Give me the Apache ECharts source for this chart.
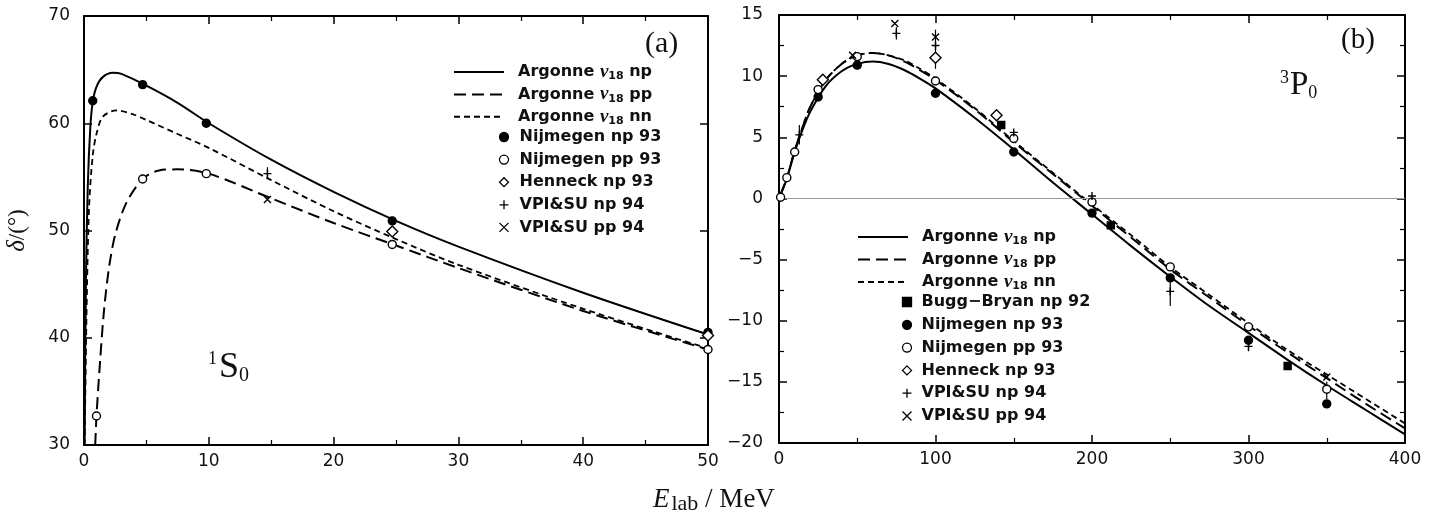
<!DOCTYPE html>
<html lang="en">
<head>
<meta charset="UTF-8">
<title>1S0 / 3P0 phase shifts</title>
<script src="https://cdn.jsdelivr.net/npm/echarts@6/dist/echarts.min.js"></script>
<style>
  html, body { margin: 0; padding: 0; background: #fff; }
  #main { width: 1442px; height: 517px; }
</style>
</head>
<body>
<div id="main"></div>
<script>
// ---- panel (a): 1S0, E in MeV, delta in degrees ----
var a_av18_np = [[0.05, 30], [0.15, 45], [0.3, 54], [0.5, 59.5], [0.7, 62], [1, 63.4], [1.5, 64.3], [2.3, 64.7], [3, 64.6], [5, 63.5], [7.5, 61.9], [10, 60], [15, 56.6], [20, 53.6], [25, 50.9], [30, 48.5], [40, 44.2], [50, 40.3]];
var a_av18_pp = [[0.9, 30], [1, 32.7], [1.3, 38], [1.6, 42.5], [2, 46.5], [2.5, 49.6], [3.4, 52.6], [4.7, 54.8], [6, 55.6], [7.5, 55.7], [10, 55.3], [15, 53], [20, 50.7], [25, 48.6], [30, 46.5], [40, 42.5], [50, 38.9]];
var a_av18_nn = [[0.05, 30], [0.2, 42], [0.4, 52], [0.7, 57], [1, 59], [1.5, 60.6], [2.6, 61.2], [4, 60.8], [5, 60.3], [7.5, 59], [10, 57.7], [15, 54.7], [20, 51.8], [25, 49.2], [30, 46.8], [40, 42.7], [50, 39]];
var a_nijm_np = [[0.7, 62.1], [4.7, 63.6], [9.8, 60], [24.7, 50.9], [50, 40.5]];
var a_nijm_pp = [[1, 32.7], [4.7, 54.8], [9.8, 55.3], [24.7, 48.7], [50, 38.9]];
var a_henneck = [[24.7, 49.9], [50, 40.2]];
var a_vpi_np = [[14.7, 55.3]];
var a_vpi_pp = [[14.7, 52.9]];
var a_errors = [[14.7, 54.8, 55.9]];

// ---- panel (b): 3P0 ----
var b_av18_np = [[0, 0], [5, 1.6], [10, 3.8], [15, 5.6], [20, 7.1], [30, 9.2], [40, 10.4], [50, 11], [60, 11.2], [70, 11], [80, 10.5], [90, 9.8], [100, 9], [125, 6.6], [150, 4], [175, 1.3], [200, -1.3], [225, -3.9], [250, -6.4], [275, -8.8], [300, -11], [325, -13.2], [350, -15.3], [375, -17.3], [400, -19.3]];
var b_av18_pp = [[0, 0], [5, 1.7], [10, 3.9], [15, 5.8], [20, 7.5], [30, 9.7], [40, 11], [50, 11.7], [60, 11.9], [70, 11.7], [80, 11.2], [90, 10.5], [100, 9.7], [125, 7.3], [150, 4.6], [175, 2], [200, -0.6], [225, -3.2], [250, -5.8], [275, -8.1], [300, -10.4], [325, -12.6], [350, -14.7], [375, -16.8], [400, -18.8]];
var b_av18_nn = [[0, 0], [5, 1.7], [10, 3.9], [15, 5.8], [20, 7.5], [30, 9.7], [40, 11], [50, 11.7], [60, 11.9], [70, 11.7], [80, 11.3], [90, 10.6], [100, 9.8], [125, 7.4], [150, 4.7], [175, 2.1], [200, -0.5], [225, -3], [250, -5.6], [275, -7.9], [300, -10.2], [325, -12.4], [350, -14.4], [375, -16.4], [400, -18.4]];
var b_bugg = [[142, 6], [212, -2.2], [325, -13.7]];
var b_nijm_np = [[25, 8.3], [50, 10.9], [100, 8.6], [150, 3.8], [200, -1.2], [250, -6.5], [300, -11.6], [350, -16.8]];
var b_nijm_pp = [[1, 0.1], [5, 1.7], [10, 3.8], [25, 8.9], [50, 11.6], [100, 9.6], [150, 4.9], [200, -0.3], [250, -5.6], [300, -10.5], [350, -15.6]];
var b_henneck = [[28, 9.7], [100, 11.5], [139, 6.8]];
var b_vpi_np = [[13, 5.2], [75, 13.5], [100, 12.5], [150, 5.4], [200, 0.2], [250, -7.6], [300, -12.1]];
var b_vpi_pp = [[47, 11.7], [74, 14.3], [100, 13.2], [350, -14.6]];
var b_errors = [[13, 4.4, 6], [75, 13, 14], [100, 10.6, 13.8], [250, -8.8, -6.3], [300, -12.5, -11.5], [350, -16.4, -15]];

var aXTicks = {min: 0, max: 50, interval: 10};
var aYTicks = {min: 30, max: 70, interval: 10};
var bXTicks = {min: 0, max: 400, interval: 100};
var bYTicks = {min: -20, max: 15, interval: 5};

var N_NP = 'Argonne ν18 np', N_PP = 'Argonne ν18 pp', N_NN = 'Argonne ν18 nn';
var N_BUGG = 'Bugg−Bryan np 92', N_NIJNP = 'Nijmegen np 93', N_NIJPP = 'Nijmegen pp 93';
var N_HEN = 'Henneck np 93', N_VPINP = 'VPI&SU np 94', N_VPIPP = 'VPI&SU pp 94';

var SANS = '"DejaVu Sans", sans-serif';
var SERIF = '"Liberation Serif", "DejaVu Serif", serif';
var PLUS = 'path://M5 0V10M0 5H10';
var CROSS = 'path://M0 0L10 10M10 0L0 10';

var myChart = echarts.init(document.getElementById('main'));

function minus(v) { return String(v).replace('-', '−'); }

function xAx(grid, t, pos, labels) {
    return {
        type: 'value', gridIndex: grid, position: pos, min: t.min, max: t.max, interval: t.interval,
        axisLine: {show: true, onZero: false, lineStyle: {color: '#000', width: 2}},
        axisTick: {show: true, inside: true, length: 8, lineStyle: {color: '#000', width: 1.5}},
        minorTick: {show: true, splitNumber: 2, length: 5, lineStyle: {color: '#000', width: 1.2}},
        axisLabel: {show: labels, margin: 8, color: '#111', fontFamily: SANS, fontSize: 17, formatter: minus},
        splitLine: {show: false}
    };
}

function yAx(grid, t, pos, minor, labels, margin) {
    return {
        type: 'value', gridIndex: grid, position: pos, min: t.min, max: t.max, interval: t.interval,
        axisLine: {show: true, onZero: false, lineStyle: {color: '#000', width: 2}},
        axisTick: {show: true, inside: true, length: 8, lineStyle: {color: '#000', width: 1.5}},
        minorTick: {show: minor, splitNumber: 2, length: 5, lineStyle: {color: '#000', width: 1.2}},
        axisLabel: {show: labels, margin: margin, color: '#111', fontFamily: SANS, fontSize: 17, formatter: minus},
        splitLine: {show: false}
    };
}

function curve(name, data, xi, yi, dash, width) {
    return {
        name: name, type: 'line', data: data, xAxisIndex: xi, yAxisIndex: yi,
        smooth: 0.3, symbol: 'none', clip: true, silent: true,
        lineStyle: {color: '#000', width: width, type: dash}
    };
}

function points(name, data, xi, yi, symbol, size, fill) {
    return {
        name: name, type: 'scatter', data: data, xAxisIndex: xi, yAxisIndex: yi,
        symbol: symbol, symbolSize: size, silent: true, z: 5,
        itemStyle: {color: fill, borderColor: '#000', borderWidth: 1.4, opacity: 1}
    };
}

function errorBars(data, xi, yi) {
    return {
        type: 'custom', data: data, xAxisIndex: xi, yAxisIndex: yi, silent: true, z: 4,
        renderItem: function (params, api) {
            var lo = api.coord([api.value(0), api.value(1)]);
            var hi = api.coord([api.value(0), api.value(2)]);
            return {
                type: 'line',
                shape: {x1: lo[0], y1: lo[1], x2: hi[0], y2: hi[1]},
                style: {stroke: '#000', lineWidth: 1.2}
            };
        }
    };
}

function legendText(name) {
    return name.replace('ν18', '{nu|ν}{sub|18}');
}

var legendRich = {
    nu: {fontFamily: SERIF, fontStyle: 'italic', fontSize: 19, lineHeight: 20},
    sub: {fontFamily: SANS, fontSize: 11, fontWeight: 'bold', lineHeight: 20, verticalAlign: 'bottom', padding: [6, 0, 0, 0]}
};

function lineLegend(data, left, top, textPad, gap) {
    return {
        orient: 'vertical', left: left, top: top, padding: 0, data: data, itemWidth: 50, itemHeight: 12, itemGap: gap,
        selectedMode: false, formatter: legendText,
        itemStyle: {opacity: 0},
        textStyle: {fontFamily: SANS, fontSize: 16, fontWeight: 'bold', color: '#111', lineHeight: 20, padding: [0, 0, 0, textPad], rich: legendRich}
    };
}

function pointLegend(data, left, top, textPad, gap) {
    return {
        orient: 'vertical', left: left, top: top, padding: 0, data: data, itemWidth: 9, itemHeight: 9, itemGap: gap,
        selectedMode: false,
        itemStyle: {borderColor: '#000', borderWidth: 1.3},
        textStyle: {fontFamily: SANS, fontSize: 16, color: '#111', fontWeight: 'bold', lineHeight: 20, padding: [0, 0, 0, textPad]}
    };
}

var option = {
    backgroundColor: '#fff',
    animation: false,
    grid: [
        {left: 84, top: 16, width: 624, height: 429},
        {left: 779, top: 15, width: 626, height: 428}
    ],
    xAxis: [
        xAx(0, aXTicks, 'bottom', true),
        xAx(0, aXTicks, 'top', false),
        xAx(1, bXTicks, 'bottom', true),
        xAx(1, bXTicks, 'top', false)
    ],
    yAxis: [
        Object.assign(yAx(0, aYTicks, 'left', false, true, 14), {
            name: '{i|δ}/(°)', nameLocation: 'middle', nameGap: 54, nameRotate: 90,
            nameTextStyle: {fontFamily: SERIF, fontSize: 23, color: '#111',
                rich: {i: {fontFamily: SERIF, fontStyle: 'italic', fontSize: 25}}}
        }),
        yAx(0, aYTicks, 'right', false, false, 8),
        yAx(1, bYTicks, 'left', true, true, 16),
        yAx(1, bYTicks, 'right', true, false, 8)
    ],
    title: [
        {text: '(a)', left: 640, top: 24, textStyle: {fontFamily: SERIF, fontSize: 30, fontWeight: 'normal', color: '#111'}},
        {text: '{sup|1}S{sub|0}', left: 203, top: 345,
            textStyle: {fontFamily: SERIF, fontSize: 36, fontWeight: 'normal', color: '#111',
                rich: {sup: {fontFamily: SERIF, fontSize: 18, verticalAlign: 'top', padding: [0, 2, 14, 0]},
                       sub: {fontFamily: SERIF, fontSize: 20, verticalAlign: 'bottom', padding: [12, 0, 0, 0]}}}},
        {text: '(b)', left: 1336, top: 21, textStyle: {fontFamily: SERIF, fontSize: 29, fontWeight: 'normal', color: '#111'}},
        {text: '{sup|3}P{sub|0}', left: 1275, top: 64,
            textStyle: {fontFamily: SERIF, fontSize: 33, fontWeight: 'normal', color: '#111',
                rich: {sup: {fontFamily: SERIF, fontSize: 18, verticalAlign: 'top', padding: [0, 1, 12, 0]},
                       sub: {fontFamily: SERIF, fontSize: 18, verticalAlign: 'bottom', padding: [10, 0, 0, 0]}}}},
        {text: '{e|E}{sub|lab} / MeV', left: 648, top: 480,
            textStyle: {fontFamily: SERIF, fontSize: 27, fontWeight: 'normal', color: '#111',
                rich: {e: {fontFamily: SERIF, fontStyle: 'italic', fontSize: 27},
                       sub: {fontFamily: SERIF, fontSize: 22, verticalAlign: 'bottom', padding: [8, 0, 0, 2]}}}}
    ],
    legend: [
        lineLegend([N_NP, N_PP, N_NN], 453, 62, 9, 2.4),
        pointLegend([N_NIJNP, N_NIJPP, N_HEN, N_VPINP, N_VPIPP], 497, 127, 6, 2.6),
        lineLegend([N_NP, N_PP, N_NN], 857, 227, 9, 2.5),
        pointLegend([N_BUGG, N_NIJNP, N_NIJPP, N_HEN, N_VPINP, N_VPIPP], 900, 292, 5, 2.8)
    ],
    series: [
        curve(N_NP, a_av18_np, 0, 0, 'solid', 2),
        curve(N_PP, a_av18_pp, 0, 0, [12, 6], 2),
        curve(N_NN, a_av18_nn, 0, 0, [6, 4], 1.8),
        points(N_NIJNP, a_nijm_np, 0, 0, 'circle', 8, '#000'),
        points(N_NIJPP, a_nijm_pp, 0, 0, 'circle', 8, '#fff'),
        points(N_HEN, a_henneck, 0, 0, 'diamond', 11, '#fff'),
        points(N_VPINP, a_vpi_np, 0, 0, PLUS, 8, 'none'),
        points(N_VPIPP, a_vpi_pp, 0, 0, CROSS, 7, 'none'),
        errorBars(a_errors, 0, 0),

        Object.assign(curve(N_NP, b_av18_np, 2, 2, 'solid', 2), {
            markLine: {silent: true, symbol: 'none', label: {show: false},
                lineStyle: {color: '#9a9a9a', width: 1.2, type: 'solid'}, data: [{yAxis: 0}]}
        }),
        curve(N_PP, b_av18_pp, 2, 2, [12, 6], 2),
        curve(N_NN, b_av18_nn, 2, 2, [6, 4], 1.8),
        points(N_BUGG, b_bugg, 2, 2, 'rect', 7, '#000'),
        points(N_NIJNP, b_nijm_np, 2, 2, 'circle', 8, '#000'),
        points(N_NIJPP, b_nijm_pp, 2, 2, 'circle', 8, '#fff'),
        points(N_HEN, b_henneck, 2, 2, 'diamond', 11, '#fff'),
        points(N_VPINP, b_vpi_np, 2, 2, PLUS, 8, 'none'),
        points(N_VPIPP, b_vpi_pp, 2, 2, CROSS, 7, 'none'),
        errorBars(b_errors, 2, 2)
    ]
};

myChart.setOption(option);
</script>
</body>
</html>
